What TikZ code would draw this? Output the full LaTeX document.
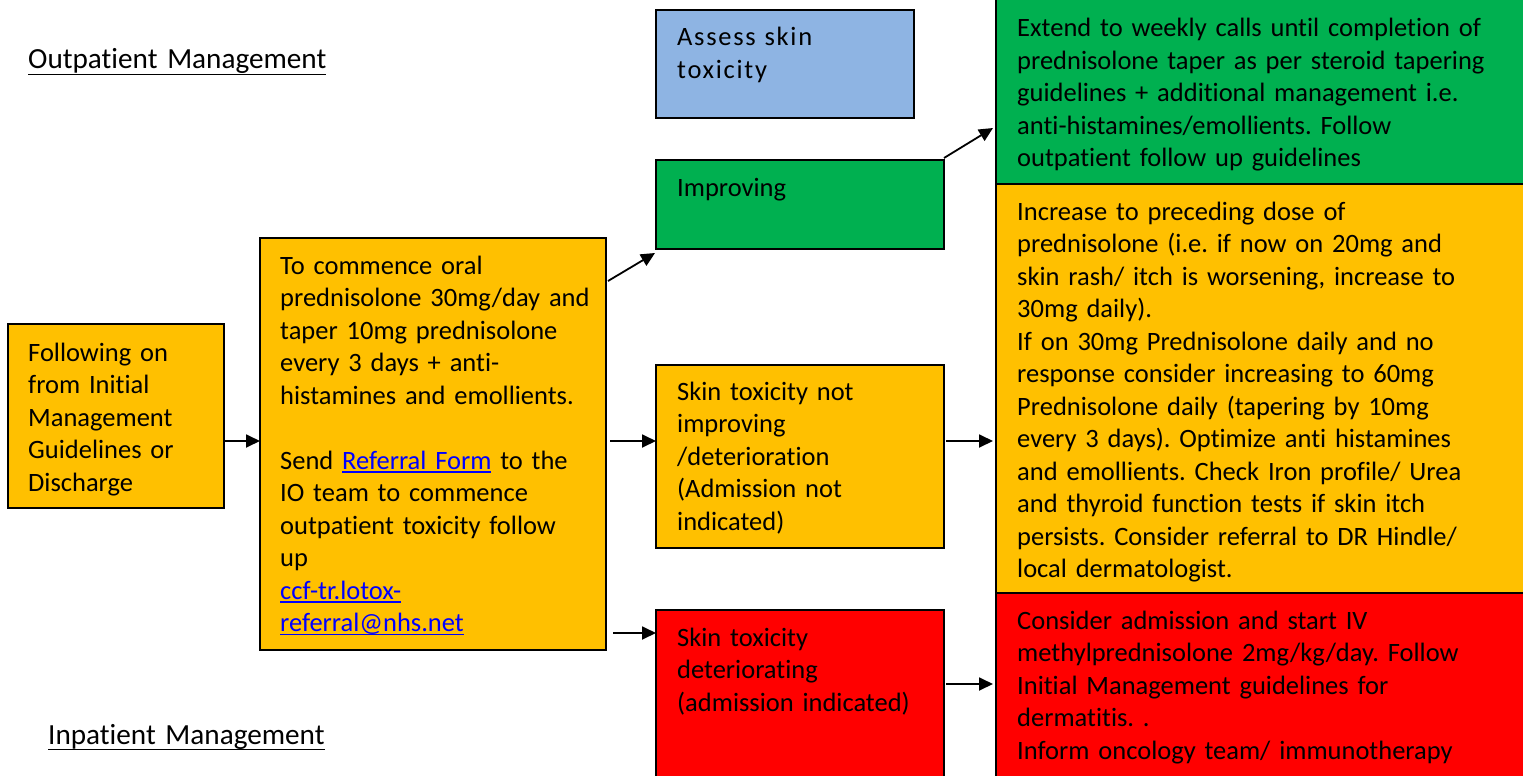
\documentclass[tikz,border=0pt]{standalone}
\usepackage{fontspec}
\setmainfont{Carlito}[Ligatures={NoCommon}]
\usetikzlibrary{arrows.meta,calc}

\definecolor{amber}{HTML}{FFC000}
\definecolor{okgreen}{HTML}{00B050}
\definecolor{alertred}{HTML}{FF0000}
\definecolor{skyblue}{HTML}{8EB4E3}
\definecolor{linkblue}{HTML}{0000FF}

\newcommand\bodyfont{\fontsize{26.5pt}{32.5pt}\selectfont\frenchspacing}
\newcommand\headfont{\fontsize{29.2pt}{35pt}\selectfont}
% underline drawn as a rule of chosen depth and thickness
\newcommand\ulbox[3]{\leavevmode\setbox0=\hbox{#3}\rlap{\rule[-#1]{\wd0}{#2}}\box0}
\newcommand\weblink[1]{\textcolor{linkblue}{\ulbox{3.6pt}{1.5pt}{#1}}}

\begin{document}
\begin{tikzpicture}[x=1pt,y=-1pt,
  box/.style={draw=black,line width=1.6pt,anchor=north west,inner sep=0pt,outer sep=0pt},
  txt/.style={anchor=base west,inner sep=0pt,text width=520pt,align=left,font=\bodyfont},
  arr/.style={line width=1.8pt,-{Triangle[length=14pt,width=13pt]}}]
\clip (0,0) rectangle (1523,776);
\fill[white] (0,0) rectangle (1523,776);

% section headings
\node[txt,font=\headfont] (outhead) at (28,69) {\ulbox{6.4pt}{1.9pt}{Outpatient Management}};
\node[txt,font=\headfont] (inhead) at (48,744) {\ulbox{6.4pt}{1.9pt}{Inpatient Management}};

% boxes
\node[box,fill=amber,minimum width=216pt,minimum height=184pt] (start) at (8,324) {};
\node[box,fill=amber,minimum width=346pt,minimum height=412pt] (plan) at (260,238) {};
\node[box,fill=skyblue,minimum width=258pt,minimum height=108pt] (assess) at (656,10) {};
\node[box,fill=okgreen,minimum width=288pt,minimum height=89pt] (improve) at (656,160) {};
\node[box,fill=amber,minimum width=288pt,minimum height=183pt] (notimp) at (656,365) {};
\node[box,fill=alertred,minimum width=288pt,minimum height=190pt] (worse) at (656,610) {};
\node[box,fill=okgreen,minimum width=540pt,minimum height=194pt] (extend) at (996,-10) {};
\node[box,fill=amber,minimum width=540pt,minimum height=409pt] (increase) at (996,184) {};
\node[box,fill=alertred,minimum width=540pt,minimum height=200pt] (admit) at (996,593) {};

% box texts
\node[txt] (startT) at (28,361) {Following on\\from Initial\\Management\\Guidelines or\\Discharge};
\node[txt] (planT) at (280,274) {To commence oral\\prednisolone 30mg/day and\\taper 10mg prednisolone\\every 3 days + anti-\\histamines and emollients.\\[32.5pt]Send \weblink{Referral Form} to the\\IO team to commence\\outpatient toxicity follow\\up\\\weblink{ccf-tr.lotox-}\\\weblink{referral@nhs.net}};
\node[txt,font=\bodyfont\addfontfeatures{LetterSpace=6.5}] (assessT) at (677,46) {Assess skin\\toxicity};
\node[txt] (improveT) at (677,196) {Improving};
\node[txt] (notimpT) at (677,400) {Skin toxicity not\\improving\\/deterioration\\(Admission not\\indicated)};
\node[txt] (worseT) at (677,646) {Skin toxicity\\deteriorating\\(admission indicated)};
\node[txt] (extendT) at (1017,37) {Extend to weekly calls until completion of\\prednisolone taper as per steroid tapering\\guidelines + additional management i.e.\\anti-histamines/emollients. Follow\\outpatient follow up guidelines};
\node[txt] (increaseT) at (1017,220) {Increase to preceding dose of\\prednisolone (i.e. if now on 20mg and\\skin rash/ itch is worsening, increase to\\30mg daily).\\If on 30mg Prednisolone daily and no\\response consider increasing to 60mg\\Prednisolone daily (tapering by 10mg\\every 3 days). Optimize anti histamines\\and emollients. Check Iron profile/ Urea\\and thyroid function tests if skin itch\\persists. Consider referral to DR Hindle/\\local dermatologist.};
\node[txt] (admitT) at (1017,629) {Consider admission and start IV\\methylprednisolone 2mg/kg/day. Follow\\Initial Management guidelines for\\dermatitis. .\\Inform oncology team/ immunotherapy};

% arrow heights
\coordinate (rowA) at (0,441);
\coordinate (rowB) at (0,633);
\coordinate (rowC) at (0,684);

% connectors
\draw[arr] (start.east |- rowA) -- (plan.west |- rowA);
\draw[arr] ($(plan.north east)+(2,43)$) -- ($(improve.south west)+(-1,4)$);
\draw[arr] ($(plan.east |- rowA)+(4,0)$) -- (notimp.west |- rowA);
\draw[arr] ($(plan.east |- rowB)+(7,0)$) -- (worse.west |- rowB);
\draw[arr] ($(improve.north east)+(0,-2)$) -- ($(extend.south west)+(-3,-56)$);
\draw[arr] ($(notimp.east |- rowA)+(2,0)$) -- ($(increase.west |- rowA)+(-3,0)$);
\draw[arr] ($(worse.east |- rowC)+(2,0)$) -- ($(admit.west |- rowC)+(-3,0)$);
\end{tikzpicture}
\end{document}
